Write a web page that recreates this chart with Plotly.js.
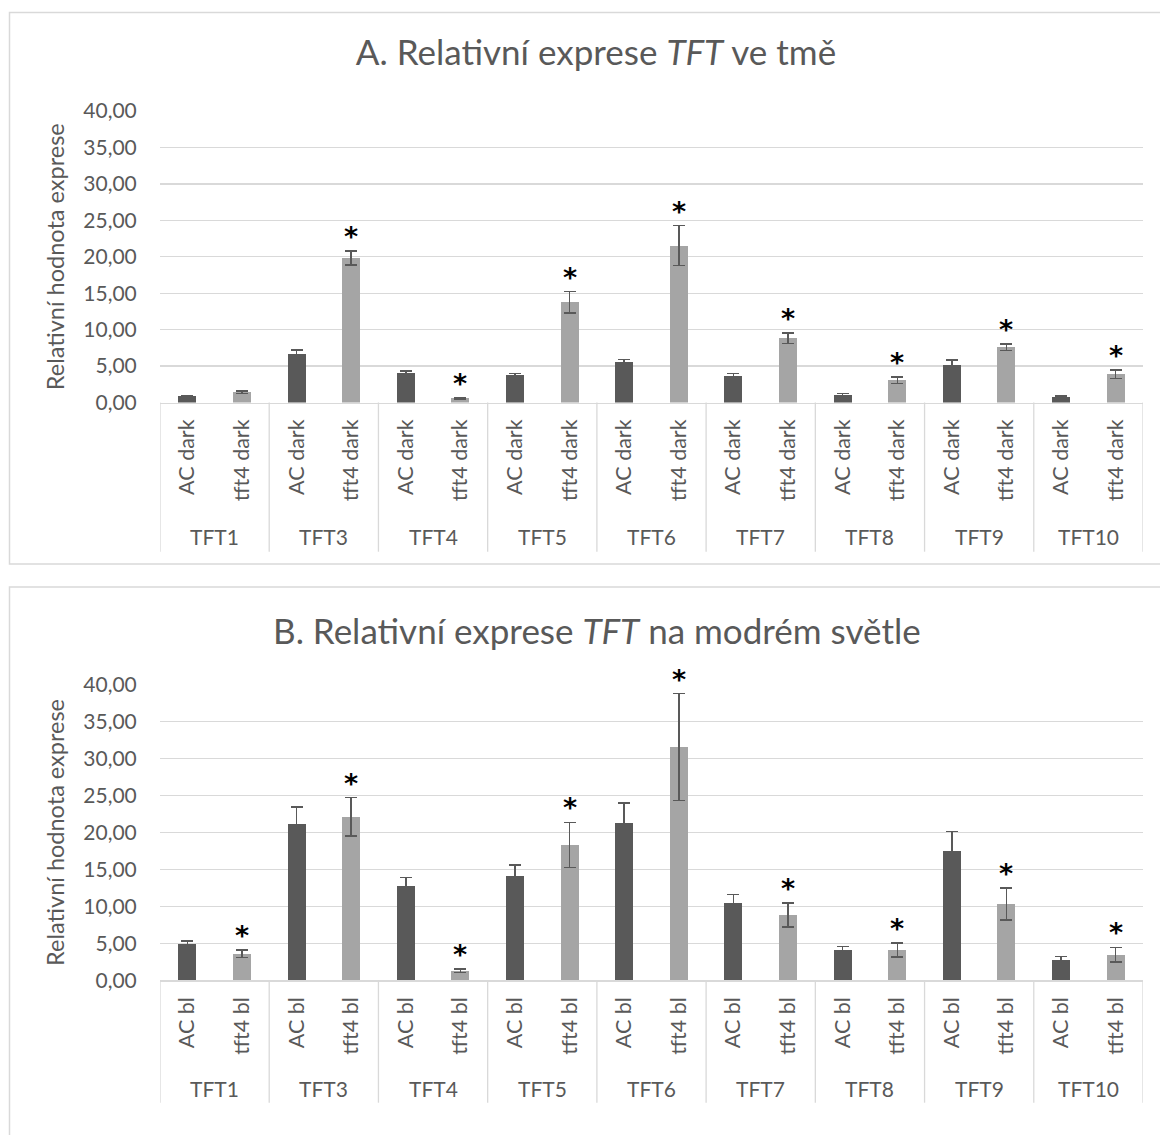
<!DOCTYPE html>
<html>
<head>
<meta charset="utf-8">
<script src="https://cdn.plot.ly/plotly-3.0.1.min.js"></script>
<style>html,body{margin:0;padding:0;background:#fff;}#chart{width:1160px;height:1135px;}</style>
</head>
<body>
<div id="chart"></div>
<script>
// ---- data ----
const groups = ['TFT1', 'TFT3', 'TFT4', 'TFT5', 'TFT6', 'TFT7', 'TFT8', 'TFT9', 'TFT10'];
const subLabelsA = ['AC dark', 'tft4 dark'];
const subLabelsB = ['AC bl', 'tft4 bl'];

const acDark     = [0.90, 6.63, 4.02, 3.74, 5.53, 3.60, 1.00, 5.12, 0.73];
const acDarkErr  = [0.06, 0.60, 0.28, 0.25, 0.40, 0.35, 0.22, 0.70, 0.15];
const tftDark    = [1.41, 19.84, 0.55, 13.76, 21.53, 8.82, 3.06, 7.59, 3.88];
const tftDarkErr = [0.20, 0.95, 0.10, 1.45, 2.75, 0.70, 0.43, 0.45, 0.57];
const sigA       = [false, true, true, true, true, true, true, true, true];

const acBl       = [4.93, 21.15, 12.77, 14.12, 21.28, 10.43, 4.08, 17.46, 2.73];
const acBlErr    = [0.40, 2.30, 1.10, 1.50, 2.70, 1.20, 0.50, 2.65, 0.50];
const tftBl      = [3.58, 22.10, 1.28, 18.30, 31.55, 8.85, 4.12, 10.30, 3.45];
const tftBlErr   = [0.52, 2.60, 0.25, 3.05, 7.25, 1.62, 0.95, 2.15, 1.00];
const sigB       = [true, true, true, true, true, true, true, true, true];

const titleA = 'A. Relativní exprese <i>TFT</i> ve tmě';
const titleB = 'B. Relativní exprese <i>TFT</i> na modrém světle';
const yTitle = 'Relativní hodnota exprese';

// ---- styling ----
const W = 1160, H = 1135;
const FONT = 'Lato, "Open Sans", sans-serif';
const TXT = '#595959';
const GRID = '#d9d9d9';
const DARK = '#595959';
const LIGHT = '#a5a5a5';
const py = p => 1 - p / H;   // pixel row -> paper y
const px = p => p / W;       // pixel col -> paper x

const xAC = groups.map((g, i) => 2 * i);
const xTF = groups.map((g, i) => 2 * i + 1);
const tickvals = groups.flatMap((g, i) => [2 * i, 2 * i + 1]);

function bars(xs, ys, errs, color, xa, ya) {
  return {
    type: 'bar', x: xs, y: ys, xaxis: xa, yaxis: ya, width: 0.33,
    marker: { color: color, line: { width: 0 } },
    error_y: { type: 'data', array: errs, symmetric: true, color: '#595959', thickness: 1.5, width: 6 },
    hoverinfo: 'skip', showlegend: false
  };
}

const data = [
  bars(xAC, acDark, acDarkErr, DARK, 'x', 'y'),
  bars(xTF, tftDark, tftDarkErr, LIGHT, 'x', 'y'),
  bars(xAC, acBl, acBlErr, DARK, 'x2', 'y2'),
  bars(xTF, tftBl, tftBlErr, LIGHT, 'x2', 'y2')
];

function xAxis(subs, anchor) {
  return {
    domain: [px(160), px(1143)], anchor: anchor, range: [-0.5, 2 * groups.length - 0.5],
    tickmode: 'array', tickvals: tickvals, ticktext: groups.flatMap(() => subs),
    tickangle: -90, ticks: 'outside', ticklen: 7, tickcolor: 'rgba(0,0,0,0)',
    tickfont: { family: FONT, size: 21.5, color: TXT },
    showgrid: false, zeroline: false, showline: true, linecolor: GRID, linewidth: 1.3,
    fixedrange: true
  };
}
function yAxis(dom, anchor) {
  return {
    domain: dom, anchor: anchor, range: [0, 40], dtick: 5, tick0: 0, tickformat: '.2f',
    ticks: 'outside', ticklen: 18, tickcolor: 'rgba(0,0,0,0)',
    tickfont: { family: FONT, size: 21, color: TXT },
    showgrid: true, gridcolor: GRID, gridwidth: 1.3, zeroline: false, showline: false,
    title: { text: yTitle, font: { family: FONT, size: 23.5, color: TXT }, standoff: 12 },
    fixedrange: true
  };
}

const shapes = [];
const annotations = [];
// chart-area borders
shapes.push({ type: 'rect', xref: 'paper', yref: 'paper', x0: px(9.5), x1: 1.05, y0: py(12.5), y1: py(564), line: { color: GRID, width: 1.5 }, fillcolor: 'rgba(0,0,0,0)' });
shapes.push({ type: 'rect', xref: 'paper', yref: 'paper', x0: px(9.5), x1: 1.05, y0: py(587), y1: py(1160), line: { color: GRID, width: 1.5 }, fillcolor: 'rgba(0,0,0,0)' });

function categoryFrame(xa, yTop, yBot, yLab) {
  for (let i = 0; i <= groups.length; i++) {
    shapes.push({ type: 'line', xref: xa, yref: 'paper', x0: 2 * i - 0.5, x1: 2 * i - 0.5, y0: py(yTop), y1: py(yBot), line: { color: GRID, width: 1.3 } });
  }
  groups.forEach((g, i) => {
    annotations.push({ xref: xa, yref: 'paper', x: 2 * i + 0.5, y: py(yLab), text: g, showarrow: false, xanchor: 'center', yanchor: 'middle', font: { family: FONT, size: 21, color: TXT } });
  });
}
categoryFrame('x', 402.5, 551.7, 536);
categoryFrame('x2', 980.2, 1102.7, 1088);

function stars(vals, errs, sig, xa, ya) {
  vals.forEach((v, i) => {
    if (!sig[i]) return;
    annotations.push({ xref: xa, yref: ya, x: 2 * i + 1, y: v + errs[i], text: '<b>*</b>', showarrow: false, xanchor: 'center', yanchor: 'bottom', yshift: -3, font: { family: 'DejaVu Sans', size: 27, color: '#000' } });
  });
}
stars(tftDark, tftDarkErr, sigA, 'x', 'y');
stars(tftBl, tftBlErr, sigB, 'x2', 'y2');

annotations.push({ xref: 'paper', yref: 'paper', x: px(597), y: py(630), text: titleB, showarrow: false, xanchor: 'center', yanchor: 'middle', font: { family: FONT, size: 35, color: TXT } });

const layout = {
  width: W, height: H, margin: { l: 0, r: 0, t: 0, b: 0 },
  paper_bgcolor: '#fff', plot_bgcolor: 'rgba(0,0,0,0)',
  separators: ', ', bargap: 0, showlegend: false,
  title: { text: titleA, x: px(596), xanchor: 'center', xref: 'paper', y: py(53), yanchor: 'middle', yref: 'paper', font: { family: FONT, size: 35, color: TXT } },
  xaxis: xAxis(subLabelsA, 'y'),
  yaxis: yAxis([py(402.5), py(111)], 'x'),
  xaxis2: xAxis(subLabelsB, 'y2'),
  yaxis2: yAxis([py(980.2), py(684.7)], 'x2'),
  shapes: shapes, annotations: annotations
};

Plotly.newPlot('chart', data, layout, { displayModeBar: false, staticPlot: true });
</script>
</body>
</html>
